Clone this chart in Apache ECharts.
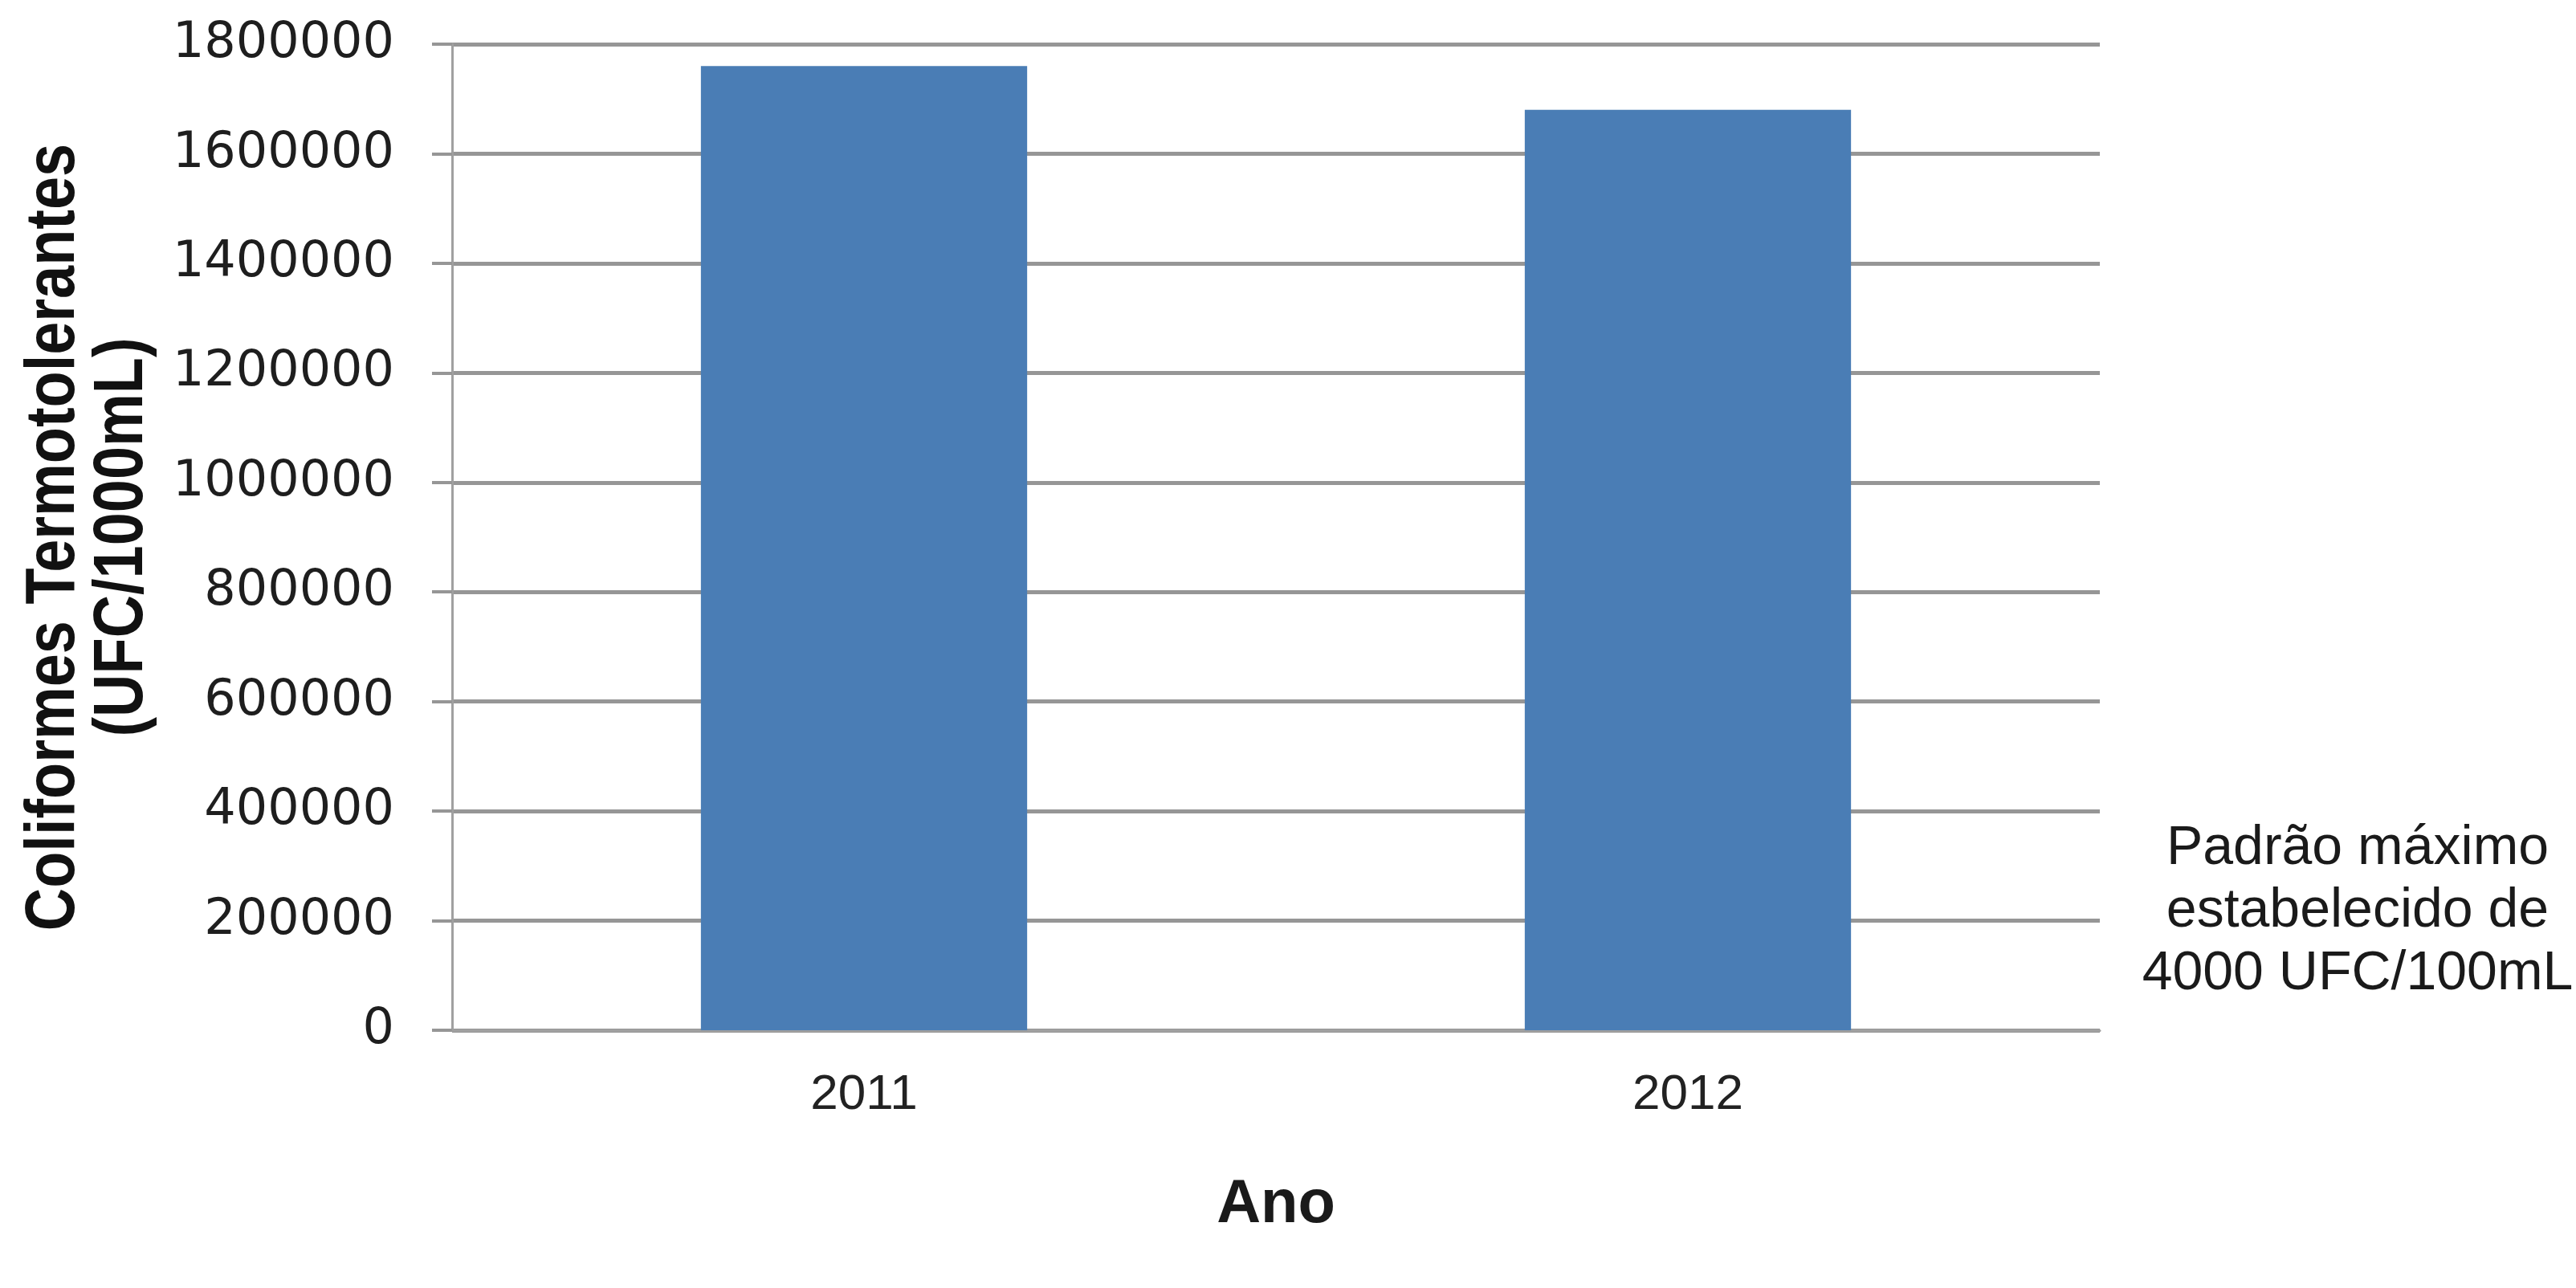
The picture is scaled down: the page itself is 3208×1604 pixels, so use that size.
<!DOCTYPE html>
<html>
<head>
<meta charset="utf-8">
<script src="https://cdn.jsdelivr.net/npm/echarts@6/dist/echarts.min.js"></script>
<style>html,body{margin:0;padding:0;background:#fff}#c{width:3208px;height:1604px}</style>
</head>
<body>
<div id="c"></div>
<script>
const categories = ['2011', '2012'];
const values = [1760000, 1680000];
const yTicks = { min: 0, max: 1800000, interval: 200000 };
const yTitle = 'Coliformes Termotolerantes\n(UFC/1000mL)';
const xTitle = 'Ano';
const noteLines = ['Padrão máximo', 'estabelecido de', '4000 UFC/100mL'];

const chart = echarts.init(document.getElementById('c'));
chart.setOption({
  backgroundColor: '#ffffff',
  animation: false,
  grid: { left: 563, right: 593, top: 55, bottom: 321, containLabel: false, outerBoundsMode: 'none' },
  xAxis: {
    type: 'category',
    data: categories,
    name: xTitle,
    nameLocation: 'middle',
    nameGap: 180,
    nameTextStyle: { fontFamily: 'Liberation Sans', fontWeight: 'bold', fontSize: 76, color: '#1a1a1a' },
    axisLine: { show: true, lineStyle: { color: '#a0a0a0', width: 3 } },
    axisTick: { show: false },
    axisLabel: { fontFamily: 'Liberation Sans', fontSize: 62, color: '#222', margin: 50 },
    splitLine: { show: false }
  },
  yAxis: {
    type: 'value',
    min: yTicks.min, max: yTicks.max, interval: yTicks.interval,
    axisLine: { show: true, lineStyle: { color: '#a0a0a0', width: 3 } },
    axisTick: { show: true, length: 25, lineStyle: { color: '#969696', width: 4 } },
    axisLabel: { fontFamily: 'DejaVu Sans', fontSize: 62, color: '#1e1e1e', margin: 72, formatter: v => String(v) },
    splitLine: { show: true, lineStyle: { color: '#969696', width: 5 } }
  },
  series: [{
    type: 'bar',
    data: values,
    barWidth: '39.6%',
    itemStyle: { color: '#4a7db5' }
  }],
  graphic: [{
    type: 'text',
    x: 110,
    y: 669,
    rotation: Math.PI / 2,
    scaleX: 0.84,
    style: {
      text: yTitle,
      x: 0, y: 0,
      fontFamily: 'Liberation Sans',
      fontWeight: 'bold',
      fontSize: 88,
      lineHeight: 85,
      fill: '#111',
      align: 'center',
      verticalAlign: 'middle'
    }
  }, {
    type: 'text',
    x: 2936,
    y: 1135,
    style: {
      text: noteLines.join('\n'),
      x: 0, y: 0,
      fontFamily: 'Liberation Sans',
      fontSize: 68,
      lineHeight: 78,
      fill: '#1a1a1a',
      align: 'center',
      verticalAlign: 'middle'
    }
  }]
});
</script>
</body>
</html>
